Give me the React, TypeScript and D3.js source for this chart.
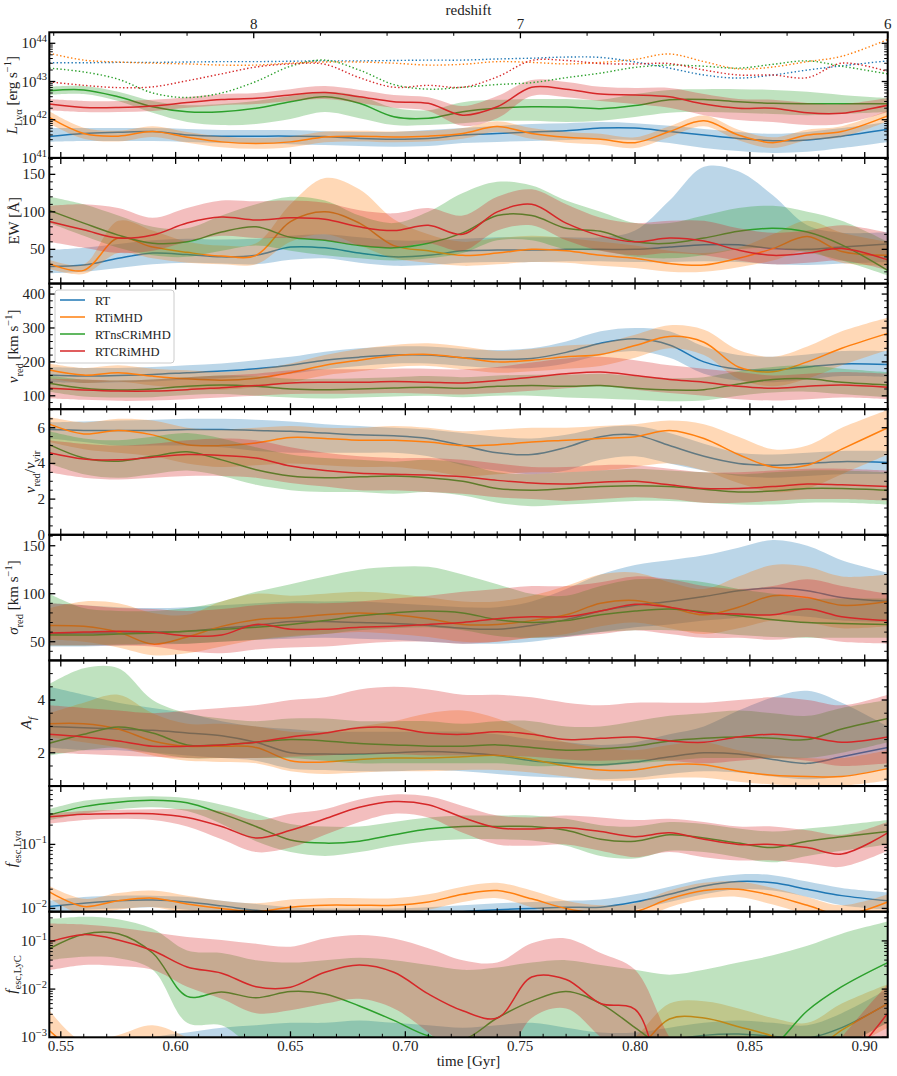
import React from 'react';
import * as d3 from 'd3';

// ---------------- data ----------------
const T = [0.545, 0.56, 0.575, 0.59, 0.605, 0.62, 0.635, 0.65, 0.665, 0.68, 0.695, 0.71, 0.725, 0.74, 0.755, 0.77, 0.785, 0.80, 0.815, 0.83, 0.845, 0.86, 0.875, 0.89, 0.91];
const MODELS = ['RT', 'RTiMHD', 'RTnsCRiMHD', 'RTCRiMHD'];
const COLORS = ['#1f77b4', '#ff7f0e', '#2ca02c', '#d62728'];

// Panel 1: log10 L_Lya [erg/s]  (order: RT, RTiMHD, RTnsCRiMHD, RTCRiMHD)
const LLYA_MED = [
  [41.56, 41.64, 41.67, 41.69, 41.60, 41.57, 41.57, 41.57, 41.56, 41.51, 41.49, 41.51, 41.60, 41.64, 41.68, 41.71, 41.78, 41.78, 41.69, 41.60, 41.51, 41.45, 41.47, 41.57, 41.75],
  [42.06, 41.64, 41.57, 41.69, 41.54, 41.42, 41.38, 41.42, 41.55, 41.57, 41.55, 41.57, 41.64, 41.82, 41.64, 41.54, 41.49, 41.40, 41.69, 41.97, 41.60, 41.40, 41.60, 41.69, 42.10],
  [42.76, 42.78, 42.60, 42.34, 42.21, 42.21, 42.30, 42.47, 42.60, 42.43, 42.08, 42.04, 42.21, 42.30, 42.34, 42.33, 42.29, 42.37, 42.52, 42.53, 42.47, 42.43, 42.42, 42.42, 42.42],
  [42.41, 42.32, 42.32, 42.36, 42.45, 42.53, 42.56, 42.65, 42.71, 42.60, 42.47, 42.43, 42.12, 42.34, 42.85, 42.80, 42.67, 42.65, 42.60, 42.41, 42.30, 42.30, 42.18, 42.17, 42.38],
];
const LLYA_HI = [
  [41.78, 41.78, 41.78, 41.78, 41.76, 41.73, 41.73, 41.73, 41.70, 41.68, 41.68, 41.73, 41.78, 41.84, 41.89, 41.91, 41.94, 41.91, 41.84, 41.76, 41.68, 41.63, 41.68, 41.78, 41.94],
  [42.22, 41.79, 41.71, 41.83, 41.68, 41.56, 41.52, 41.56, 41.69, 41.71, 41.69, 41.71, 41.78, 41.96, 41.78, 41.68, 41.63, 41.54, 41.83, 42.11, 41.74, 41.54, 41.74, 41.83, 42.24],
  [42.86, 42.88, 42.73, 42.49, 42.38, 42.41, 42.49, 42.62, 42.73, 42.62, 42.31, 42.25, 42.46, 42.52, 42.54, 42.54, 42.52, 42.67, 42.78, 42.80, 42.80, 42.78, 42.73, 42.65, 42.57],
  [42.54, 42.49, 42.49, 42.52, 42.59, 42.67, 42.70, 42.80, 42.88, 42.78, 42.65, 42.59, 42.36, 42.62, 43.04, 42.99, 42.86, 42.83, 42.83, 42.67, 42.54, 42.52, 42.44, 42.41, 42.57],
];
const LLYA_LO = [
  [41.42, 41.44, 41.44, 41.44, 41.42, 41.39, 41.39, 41.36, 41.34, 41.31, 41.29, 41.31, 41.39, 41.42, 41.44, 41.47, 41.49, 41.47, 41.39, 41.26, 41.18, 41.13, 41.16, 41.26, 41.42],
  [41.90, 41.50, 41.43, 41.55, 41.40, 41.28, 41.24, 41.28, 41.41, 41.43, 41.41, 41.43, 41.50, 41.68, 41.50, 41.40, 41.35, 41.26, 41.55, 41.83, 41.46, 41.26, 41.46, 41.55, 41.96],
  [42.65, 42.67, 42.49, 42.18, 41.94, 41.86, 41.89, 42.02, 42.20, 42.04, 41.86, 41.86, 41.91, 41.97, 41.97, 41.94, 41.97, 42.07, 42.18, 42.20, 42.18, 42.15, 42.12, 42.15, 42.20],
  [42.25, 42.20, 42.20, 42.23, 42.31, 42.38, 42.41, 42.49, 42.54, 42.44, 42.31, 42.23, 41.84, 42.04, 42.62, 42.59, 42.49, 42.41, 42.31, 42.12, 41.99, 41.94, 41.86, 41.89, 42.20],
];
// dotted lines in panel 1 (log10 L)
const LLYA_INTR = [
  [43.49, 43.49, 43.50, 43.50, 43.51, 43.52, 43.52, 43.53, 43.54, 43.54, 43.55, 43.56, 43.56, 43.59, 43.61, 43.64, 43.63, 43.51, 43.35, 43.17, 43.09, 43.17, 43.30, 43.41, 43.54],
  [43.74, 43.56, 43.51, 43.48, 43.46, 43.43, 43.43, 43.48, 43.51, 43.51, 43.48, 43.43, 43.45, 43.52, 43.50, 43.46, 43.50, 43.58, 43.72, 43.52, 43.33, 43.38, 43.52, 43.66, 44.10],
  [43.35, 43.25, 43.06, 42.70, 42.58, 42.70, 43.00, 43.40, 43.56, 43.30, 42.92, 42.80, 42.85, 42.92, 42.97, 43.10, 43.22, 43.37, 43.43, 43.40, 43.35, 43.45, 43.54, 43.40, 43.20],
  [42.99, 42.90, 42.84, 42.86, 43.02, 43.20, 43.38, 43.46, 43.45, 43.10, 42.85, 42.90, 42.85, 43.12, 43.55, 43.55, 43.47, 43.46, 43.47, 43.30, 43.17, 43.17, 43.10, 43.48, 43.26],
];

// Panel 2: EW [A]
const EW_MED = [
  [27, 29, 38, 45, 43, 40, 42, 53, 52, 45, 40, 42, 48, 49, 49, 50, 50, 50, 53, 56, 56, 51, 50, 53, 57],
  [31, 22, 65, 53, 46, 41, 42, 87, 100, 85, 55, 48, 42, 45, 50, 48, 42, 38, 31, 29, 38, 51, 67, 47, 42],
  [102, 85, 69, 58, 60, 73, 80, 66, 62, 55, 52, 58, 72, 95, 95, 78, 74, 60, 58, 65, 74, 78, 73, 56, 22],
  [87, 76, 65, 69, 85, 93, 89, 92, 90, 80, 75, 82, 70, 100, 110, 85, 68, 60, 65, 61, 49, 42, 45, 51, 36],
];
const EW_HI = [
  [49, 52, 57, 62, 64, 63, 64, 68, 70, 66, 62, 62, 64, 66, 66, 66, 66, 75, 115, 160, 154, 122, 82, 72, 73],
  [36, 30, 88, 75, 60, 55, 58, 110, 145, 130, 90, 70, 60, 65, 68, 65, 60, 55, 48, 45, 52, 70, 88, 72, 60],
  [120, 110, 95, 80, 78, 95, 110, 120, 115, 95, 85, 100, 125, 140, 135, 115, 100, 85, 85, 95, 105, 108, 100, 88, 60],
  [108, 110, 105, 92, 105, 115, 114, 115, 112, 102, 98, 105, 95, 120, 130, 110, 92, 85, 88, 88, 78, 72, 75, 82, 72],
];
const EW_LO = [
  [18, 20, 25, 30, 32, 31, 30, 36, 38, 32, 28, 29, 32, 33, 33, 34, 34, 33, 33, 34, 33, 30, 29, 31, 33],
  [24, 17, 45, 38, 32, 30, 30, 60, 70, 55, 38, 32, 28, 30, 33, 32, 28, 25, 20, 20, 26, 35, 48, 32, 28],
  [85, 68, 52, 42, 40, 48, 55, 48, 42, 38, 35, 38, 45, 62, 62, 50, 48, 40, 38, 42, 50, 52, 46, 35, 15],
  [60, 52, 45, 48, 60, 68, 65, 65, 62, 55, 52, 58, 48, 75, 82, 62, 48, 42, 45, 42, 35, 30, 32, 35, 22],
];

// Panel 3: v_red [km/s]
const VRED_MED = [
  [161, 158, 160, 163, 168, 173, 180, 190, 205, 214, 220, 220, 212, 208, 210, 228, 255, 268, 250, 200, 178, 176, 185, 194, 192],
  [176, 161, 168, 158, 150, 146, 152, 168, 190, 205, 218, 222, 212, 200, 205, 215, 222, 248, 275, 258, 185, 171, 200, 240, 284],
  [137, 122, 117, 120, 128, 132, 128, 120, 118, 120, 123, 125, 122, 128, 130, 128, 130, 122, 117, 118, 135, 148, 150, 140, 132],
  [122, 117, 114, 114, 118, 124, 130, 138, 140, 140, 142, 140, 138, 145, 155, 165, 170, 160, 148, 140, 128, 122, 128, 132, 125],
];
const VRED_HI = [
  [185, 182, 182, 185, 190, 195, 205, 215, 230, 240, 245, 245, 238, 235, 240, 260, 290, 300, 290, 245, 220, 215, 222, 232, 232],
  [195, 182, 190, 180, 175, 170, 178, 195, 220, 238, 250, 255, 245, 232, 238, 248, 255, 280, 308, 295, 235, 215, 245, 290, 330],
  [160, 148, 145, 148, 155, 160, 158, 150, 150, 152, 155, 158, 155, 160, 162, 162, 165, 158, 152, 155, 172, 185, 190, 180, 170],
  [150, 148, 145, 148, 155, 160, 165, 175, 178, 178, 180, 180, 178, 185, 198, 210, 215, 205, 190, 180, 170, 160, 165, 170, 165],
];
const VRED_LO = [
  [140, 138, 140, 142, 148, 152, 158, 165, 178, 188, 195, 195, 188, 182, 182, 195, 220, 232, 212, 165, 145, 140, 148, 158, 155],
  [150, 138, 142, 130, 122, 118, 125, 140, 160, 172, 185, 188, 178, 168, 172, 180, 188, 212, 240, 220, 150, 128, 150, 190, 235],
  [112, 98, 95, 96, 102, 105, 100, 95, 92, 95, 98, 100, 96, 100, 100, 95, 92, 88, 84, 86, 100, 110, 112, 105, 95],
  [92, 88, 85, 86, 90, 95, 100, 105, 106, 106, 108, 106, 104, 108, 115, 122, 128, 118, 108, 100, 90, 86, 90, 95, 90],
];

// Panel 4: v_red / v_vir
const VRAT_MED = [
  [5.9, 5.85, 5.85, 5.85, 5.9, 5.9, 5.85, 5.8, 5.7, 5.6, 5.55, 5.4, 5.0, 4.6, 4.5, 4.9, 5.5, 5.6, 5.0, 4.4, 4.0, 3.9, 4.0, 4.1, 4.05],
  [6.2, 5.65, 5.85, 5.6, 5.05, 5.0, 5.15, 5.45, 5.4, 5.3, 5.3, 5.2, 5.0, 5.05, 5.2, 5.3, 5.4, 5.5, 5.85, 5.4, 4.5, 3.8, 3.9, 4.8, 6.0],
  [5.05, 4.3, 4.12, 4.4, 4.65, 4.2, 3.65, 3.3, 3.2, 3.25, 3.3, 3.2, 3.0, 2.6, 2.5, 2.6, 2.7, 2.75, 2.7, 2.55, 2.4, 2.45, 2.6, 2.6, 2.5],
  [4.6, 4.25, 4.2, 4.35, 4.5, 4.45, 4.3, 3.85, 3.6, 3.45, 3.4, 3.35, 3.25, 3.05, 2.9, 2.85, 2.95, 3.0, 2.8, 2.6, 2.6, 2.7, 2.85, 2.8, 2.7],
];
const VRAT_HI = [
  [6.3, 6.35, 6.4, 6.45, 6.5, 6.5, 6.45, 6.35, 6.2, 6.1, 6.0, 5.9, 5.7, 5.5, 5.4, 5.6, 6.0, 6.1, 5.7, 5.1, 4.6, 4.5, 4.6, 4.7, 4.7],
  [6.6, 6.3, 6.5, 6.4, 6.0, 5.9, 6.0, 6.1, 6.0, 6.0, 6.1, 6.0, 5.8, 5.9, 6.0, 6.0, 6.1, 6.2, 6.4, 6.2, 5.5, 4.8, 5.0, 6.0, 7.0],
  [5.8, 5.4, 5.3, 5.5, 5.7, 5.4, 4.9, 4.5, 4.3, 4.2, 4.1, 4.2, 4.0, 3.5, 3.4, 3.5, 3.6, 3.7, 3.6, 3.5, 3.4, 3.5, 3.6, 3.6, 3.5],
  [5.3, 5.1, 5.0, 5.1, 5.3, 5.4, 5.3, 4.9, 4.6, 4.4, 4.3, 4.3, 4.2, 4.0, 3.8, 3.8, 3.9, 3.9, 3.7, 3.5, 3.5, 3.6, 3.7, 3.7, 3.6],
];
const VRAT_LO = [
  [5.4, 5.2, 5.0, 5.0, 5.0, 4.9, 4.7, 4.6, 4.6, 4.6, 4.6, 4.4, 3.9, 3.6, 3.4, 3.6, 4.2, 4.4, 4.0, 3.6, 3.3, 3.2, 3.3, 3.4, 3.4],
  [5.2, 4.8, 4.6, 4.4, 4.0, 3.8, 3.9, 4.0, 3.9, 3.8, 3.8, 3.6, 3.3, 3.4, 3.5, 3.5, 3.6, 3.8, 4.0, 3.6, 2.9, 2.4, 2.6, 3.4, 4.5],
  [4.0, 3.4, 3.2, 3.4, 3.6, 3.3, 2.8, 2.5, 2.4, 2.4, 2.3, 2.4, 2.2, 1.8, 1.6, 1.7, 1.8, 1.9, 1.9, 1.8, 1.7, 1.7, 1.8, 1.8, 1.7],
  [3.5, 3.2, 3.1, 3.2, 3.3, 3.3, 3.2, 2.9, 2.7, 2.5, 2.5, 2.4, 2.3, 2.1, 2.0, 1.9, 2.0, 2.1, 2.0, 1.8, 1.8, 1.9, 2.0, 2.0, 1.9],
];

// Panel 5: sigma_red [km/s]
const SIG_MED = [
  [58, 59, 59, 60, 61, 64, 67, 71, 71, 70, 69, 67, 64, 63, 67, 73, 82, 88, 92, 97, 103, 106, 103, 96, 92],
  [67, 66, 60, 47.5, 55, 66, 73, 75, 78, 80, 78, 74, 68, 68, 72, 78, 90, 93, 86, 78, 86, 98, 96, 88, 92],
  [57, 57, 58, 59, 61, 63, 65, 68, 72, 77, 80, 82, 80, 73, 70, 72, 78, 82, 84, 81, 77, 73, 70, 69, 68],
  [59, 60, 61, 60, 56, 57, 68, 63, 63, 65, 66, 68, 70, 74, 76, 76, 82, 89, 86, 80, 79, 78, 84, 76, 72],
];
const SIG_HI = [
  [90, 88, 86, 85, 86, 88, 90, 92, 92, 92, 90, 88, 86, 86, 92, 105, 120, 130, 135, 140, 148, 156, 150, 135, 122],
  [85, 92, 90, 80, 78, 92, 100, 98, 100, 102, 100, 96, 92, 92, 98, 108, 120, 122, 112, 105, 118, 130, 128, 118, 120],
  [100, 85, 82, 82, 85, 92, 102, 110, 118, 125, 128, 128, 120, 110, 100, 98, 108, 115, 115, 112, 105, 100, 95, 95, 95],
  [90, 88, 85, 84, 82, 84, 88, 90, 90, 92, 95, 98, 102, 105, 108, 108, 112, 118, 115, 108, 105, 108, 115, 108, 100],
];
const SIG_LO = [
  [45, 45, 46, 47, 48, 50, 52, 53, 54, 53, 52, 50, 48, 48, 50, 55, 60, 65, 68, 72, 75, 78, 76, 72, 70],
  [52, 50, 44, 36, 38, 45, 52, 56, 58, 60, 58, 55, 50, 50, 54, 58, 66, 70, 64, 58, 64, 72, 70, 64, 66],
  [46, 46, 47, 48, 48, 50, 52, 55, 58, 62, 64, 65, 62, 56, 54, 56, 60, 62, 62, 60, 57, 55, 54, 54, 54],
  [46, 46, 46, 45, 40, 38, 42, 44, 45, 48, 50, 50, 48, 50, 54, 55, 58, 62, 58, 54, 54, 52, 55, 50, 48],
];

// Panel 6: A_f
const AF_MED = [
  [3.0, 2.95, 2.9, 2.85, 2.75, 2.65, 2.4, 2.0, 1.95, 1.95, 2.0, 2.05, 2.0, 1.9, 1.7, 1.6, 1.55, 1.65, 1.85, 2.0, 1.95, 1.75, 1.6, 1.85, 2.2],
  [3.1, 3.1, 2.9, 2.45, 2.25, 2.25, 2.2, 1.7, 1.65, 1.75, 1.8, 1.8, 1.85, 1.9, 1.75, 1.5, 1.35, 1.35, 1.55, 1.55, 1.3, 1.15, 1.1, 1.1, 1.4],
  [2.36, 2.7, 2.98, 2.75, 2.3, 2.3, 2.4, 2.5, 2.45, 2.35, 2.3, 2.25, 2.25, 2.3, 2.2, 2.1, 2.15, 2.25, 2.45, 2.55, 2.6, 2.55, 2.5, 2.9, 3.3],
  [2.7, 2.6, 2.45, 2.25, 2.25, 2.3, 2.4, 2.6, 2.75, 2.95, 2.95, 2.75, 2.7, 2.8, 2.7, 2.5, 2.55, 2.6, 2.45, 2.4, 2.6, 2.7, 2.6, 2.4, 2.6],
];
const AF_HI = [
  [4.5, 4.2, 3.9, 3.7, 3.5, 3.2, 3.0, 2.9, 2.8, 2.8, 2.8, 2.8, 2.8, 2.7, 2.5, 2.4, 2.3, 2.4, 2.7, 3.0, 3.6, 4.1, 4.35, 3.9, 3.0],
  [3.5, 3.9, 4.2, 3.5, 3.1, 3.1, 3.0, 2.8, 2.8, 3.0, 3.2, 3.5, 3.6, 3.3, 2.8, 2.4, 2.2, 2.1, 2.3, 2.4, 2.1, 1.9, 1.8, 1.8, 2.1],
  [4.6, 5.2, 5.2, 4.0, 3.5, 3.3, 3.2, 3.3, 3.3, 3.2, 3.2, 3.2, 3.1, 3.2, 3.2, 3.0, 3.0, 3.2, 3.4, 3.5, 3.6, 3.5, 3.4, 3.7, 4.0],
  [3.8, 3.7, 3.6, 3.5, 3.6, 3.7, 3.8, 4.0, 4.1, 4.4, 4.5, 4.4, 4.2, 4.2, 4.1, 3.9, 3.8, 3.9, 3.9, 3.9, 4.0, 4.1, 4.0, 3.8, 4.2],
];
const AF_LO = [
  [2.2, 2.1, 2.1, 2.0, 1.9, 1.8, 1.7, 1.4, 1.35, 1.3, 1.3, 1.35, 1.3, 1.2, 1.1, 1.05, 1.0, 1.05, 1.2, 1.3, 1.25, 1.1, 1.0, 1.1, 1.4],
  [2.6, 2.4, 2.2, 1.9, 1.7, 1.65, 1.6, 1.3, 1.2, 1.25, 1.3, 1.3, 1.35, 1.35, 1.25, 1.1, 0.95, 0.95, 1.05, 1.05, 0.9, 0.8, 0.75, 0.75, 0.95],
  [1.9, 2.1, 2.2, 2.0, 1.8, 1.8, 1.8, 1.8, 1.7, 1.6, 1.6, 1.6, 1.6, 1.6, 1.5, 1.5, 1.5, 1.6, 1.7, 1.8, 1.8, 1.8, 1.8, 2.0, 2.4],
  [2.0, 1.95, 1.9, 1.85, 1.8, 1.8, 1.8, 1.85, 1.9, 1.95, 1.95, 1.9, 1.9, 1.9, 1.85, 1.75, 1.7, 1.75, 1.7, 1.6, 1.7, 1.8, 1.7, 1.5, 1.6],
];

// Panel 7: log10 f_esc,Lya
const FLYA_MED = [
  [-1.97, -1.92, -1.88, -1.87, -1.9, -1.96, -2.03, -2.08, -2.1, -2.1, -2.1, -2.08, -2.05, -2.02, -2.0, -1.98, -1.98, -1.9, -1.78, -1.65, -1.58, -1.6, -1.7, -1.8, -1.88],
  [-1.74, -1.97, -1.88, -1.84, -1.93, -2.0, -2.05, -1.98, -1.95, -1.95, -1.95, -1.9, -1.78, -1.72, -1.85, -2.0, -2.08, -2.05, -1.85, -1.72, -1.7, -1.8, -1.95, -2.1, -1.9],
  [-0.54, -0.41, -0.34, -0.31, -0.35, -0.52, -0.72, -0.93, -0.98, -0.95, -0.85, -0.76, -0.72, -0.72, -0.72, -0.78, -0.92, -0.95, -0.85, -0.9, -0.98, -1.05, -0.95, -0.88, -0.8],
  [-0.57, -0.53, -0.52, -0.52, -0.58, -0.72, -0.9, -0.78, -0.6, -0.42, -0.33, -0.38, -0.58, -0.74, -0.76, -0.74, -0.8, -0.88, -0.82, -0.92, -1.0, -1.0, -1.05, -1.15, -0.82],
];
const FLYA_HI = [
  [-1.88, -1.82, -1.8, -1.8, -1.82, -1.88, -1.93, -1.98, -2.0, -2.0, -2.0, -1.98, -1.95, -1.92, -1.9, -1.88, -1.86, -1.78, -1.66, -1.54, -1.47, -1.48, -1.58, -1.68, -1.75],
  [-1.65, -1.85, -1.76, -1.72, -1.8, -1.88, -1.92, -1.86, -1.84, -1.84, -1.84, -1.78, -1.66, -1.6, -1.72, -1.88, -1.95, -1.92, -1.72, -1.6, -1.58, -1.68, -1.82, -1.95, -1.78],
  [-0.45, -0.32, -0.27, -0.25, -0.28, -0.38, -0.52, -0.68, -0.72, -0.72, -0.65, -0.58, -0.55, -0.55, -0.55, -0.6, -0.7, -0.72, -0.65, -0.68, -0.75, -0.8, -0.75, -0.7, -0.62],
  [-0.52, -0.48, -0.46, -0.45, -0.45, -0.48, -0.62, -0.52, -0.45, -0.3, -0.22, -0.25, -0.4, -0.55, -0.58, -0.55, -0.58, -0.62, -0.6, -0.65, -0.72, -0.72, -0.78, -0.85, -0.65],
];
const FLYA_LO = [
  [-2.05, -2.02, -2.0, -1.98, -2.02, -2.08, -2.15, -2.2, -2.25, -2.25, -2.25, -2.22, -2.18, -2.15, -2.12, -2.12, -2.1, -2.02, -1.9, -1.78, -1.7, -1.72, -1.82, -1.95, -2.02],
  [-1.84, -2.1, -2.02, -1.98, -2.08, -2.15, -2.2, -2.12, -2.08, -2.08, -2.08, -2.02, -1.9, -1.84, -1.98, -2.14, -2.22, -2.2, -1.98, -1.85, -1.82, -1.94, -2.1, -2.25, -2.05],
  [-0.62, -0.52, -0.45, -0.42, -0.48, -0.68, -0.95, -1.12, -1.18, -1.12, -1.02, -0.95, -0.92, -0.92, -0.94, -1.02, -1.18, -1.22, -1.1, -1.12, -1.2, -1.28, -1.18, -1.1, -1.0],
  [-0.68, -0.62, -0.6, -0.62, -0.72, -0.92, -1.12, -1.05, -0.85, -0.65, -0.52, -0.58, -0.82, -1.0, -1.02, -1.0, -1.1, -1.2, -1.12, -1.2, -1.25, -1.25, -1.3, -1.35, -1.1],
];

// Panel 8: log10 f_esc,LyC
const FLYC_MED = [
  [-3.5, -3.5, -3.5, -3.5, -3.5, -3.5, -3.5, -3.5, -3.5, -3.5, -3.5, -3.5, -3.5, -3.5, -3.5, -3.5, -3.5, -3.4, -3.08, -2.96, -2.93, -2.98, -3.02, -2.8, -2.3],
  [-2.86, -3.4, -3.6, -3.6, -3.6, -3.6, -3.6, -3.6, -3.6, -3.6, -3.6, -3.6, -3.6, -3.6, -3.6, -3.6, -3.6, -3.3, -2.62, -2.6, -2.78, -2.98, -3.3, -2.85, -2.3],
  [-1.16, -0.86, -0.85, -1.25, -2.15, -2.06, -2.18, -2.05, -2.1, -2.35, -2.65, -2.97, -3.05, -2.6, -2.25, -2.05, -2.3, -2.8, -3.3, -3.6, -3.6, -3.2, -2.45, -1.95, -1.45],
  [-1.02, -0.87, -0.98, -1.2, -1.54, -1.67, -1.95, -1.96, -1.65, -1.5, -1.65, -2.1, -2.45, -2.6, -1.75, -1.8, -2.3, -2.42, -4, -4, -4, -4, -4, -3.6, -2.5],
];
const FLYC_HI = [
  [-3.3, -3.3, -3.2, -3.0, -2.9, -2.8, -2.75, -2.7, -2.7, -2.65, -2.7, -2.75, -2.8, -2.75, -2.7, -2.8, -2.9, -2.9, -2.8, -2.7, -2.65, -2.7, -2.75, -2.5, -2.0],
  [-2.44, -3.1, -2.95, -2.75, -3.0, -3.3, -3.4, -3.4, -3.3, -3.4, -3.5, -3.5, -3.5, -3.5, -3.5, -3.5, -3.5, -3.0, -2.3, -2.25, -2.4, -2.6, -2.7, -2.3, -1.9],
  [-0.55, -0.5, -0.55, -0.75, -1.2, -1.25, -1.4, -1.45, -1.4, -1.35, -1.4, -1.5, -1.6, -1.55, -1.45, -1.4, -1.5, -1.6, -1.7, -1.6, -1.45, -1.3, -1.1, -0.85, -0.6],
  [-0.64, -0.66, -0.72, -0.82, -0.92, -0.98, -1.06, -1.12, -0.95, -0.88, -0.95, -1.15, -1.4, -1.45, -1.05, -0.95, -1.25, -1.6, -3.0, -4, -4, -4, -4, -3.0, -1.9],
];
const FLYC_LO = [
  [-4.5, -4.5, -4.5, -4.5, -4.5, -4.5, -4.5, -4.5, -4.5, -4.5, -4.5, -4.5, -4.5, -4.5, -4.5, -4.5, -4.5, -4.5, -4.5, -4.5, -4.5, -4.5, -4.5, -3.3, -2.7],
  [-4.5, -4.5, -4.5, -4.5, -4.5, -4.5, -4.5, -4.5, -4.5, -4.5, -4.5, -4.5, -4.5, -4.5, -4.5, -4.5, -4.5, -4.5, -3.3, -3.1, -3.3, -3.6, -4.5, -3.4, -2.8],
  [-1.4, -1.33, -1.36, -1.6, -2.7, -2.75, -3.2, -3.1, -3.2, -3.5, -3.8, -4, -4, -3.6, -3.3, -3.1, -3.4, -3.8, -4, -4, -4, -4, -3.6, -3.2, -2.7],
  [-1.61, -1.5, -1.52, -1.6, -1.95, -2.2, -2.5, -2.44, -2.3, -2.2, -2.4, -2.9, -3.5, -3.7, -2.6, -2.4, -3.0, -3.6, -4, -4, -4, -4, -4, -4, -3.4],
];

// axes ticks
const X_MAJOR = [0.55, 0.60, 0.65, 0.70, 0.75, 0.80, 0.85, 0.90];
const X_MINOR_STEP = 0.01;
const Z_TICKS = [8, 7, 6];
const Z_TICK_TIMES = [0.634, 0.7501, 0.91];

// ---------------- layout ----------------
const W = 897, H = 1076;
const LEFT = 49.3, RIGHT = 887.7, TOP = 32.3, PH = 125.625;
const FONT = "'Liberation Serif', 'Times New Roman', serif";

type Part = { t: string; it?: boolean; sub?: boolean; sup?: boolean };

const PANELS = [
  { log: true, domain: [1e41, 1.94e44], med: LLYA_MED, lo: LLYA_LO, hi: LLYA_HI, labelX: 17,
    label: [{ t: 'L', it: true }, { t: 'Lyα', sub: true }, { t: ' [erg s' }, { t: '−1', sup: true }, { t: ']' }] as Part[] },
  { log: false, domain: [4.4, 171.9], major: 50, minor: 10, med: EW_MED, lo: EW_LO, hi: EW_HI, labelX: 19,
    label: [{ t: 'EW [Å]' }] as Part[] },
  { log: false, domain: [60.5, 431], major: 100, minor: 20, med: VRED_MED, lo: VRED_LO, hi: VRED_HI, labelX: 18,
    label: [{ t: 'v', it: true }, { t: 'red', sub: true }, { t: ' [km s' }, { t: '−1', sup: true }, { t: ']' }] as Part[] },
  { log: false, domain: [0, 7.04], major: 2, minor: 0.5, med: VRAT_MED, lo: VRAT_LO, hi: VRAT_HI, labelX: 35,
    label: [{ t: 'v', it: true }, { t: 'red', sub: true }, { t: '/' }, { t: 'v', it: true }, { t: 'vir', sub: true }] as Part[] },
  { log: false, domain: [30.5, 161.4], major: 50, minor: 10, med: SIG_MED, lo: SIG_LO, hi: SIG_HI, labelX: 18,
    label: [{ t: 'σ', it: true }, { t: 'red', sub: true }, { t: ' [km s' }, { t: '−1', sup: true }, { t: ']' }] as Part[] },
  { log: false, domain: [0.74, 5.5], major: 2, minor: 0.5, med: AF_MED, lo: AF_LO, hi: AF_HI, labelX: 31,
    label: [{ t: 'A', it: true }, { t: 'f', sub: true, it: true }] as Part[] },
  { log: true, domain: [0.0089, 0.815], med: FLYA_MED, lo: FLYA_LO, hi: FLYA_HI, labelX: 16,
    label: [{ t: 'f', it: true }, { t: 'esc,Lyα', sub: true }] as Part[] },
  { log: true, domain: [1e-3, 0.404], med: FLYC_MED, lo: FLYC_LO, hi: FLYC_HI, labelX: 16,
    label: [{ t: 'f', it: true }, { t: 'esc,LyC', sub: true }] as Part[] },
];

function Rich({ parts, size }: { parts: Part[]; size: number }) {
  let cur = 0;
  return (
    <>
      {parts.map((p, i) => {
        const off = p.sub ? size * 0.3 : p.sup ? -size * 0.42 : 0;
        const dy = off - cur;
        cur = off;
        return (
          <tspan key={i} dy={dy} fontStyle={p.it ? 'italic' : 'normal'} fontSize={p.sub || p.sup ? size * 0.7 : size}>
            {p.t}
          </tspan>
        );
      })}
    </>
  );
}

const x = d3.scaleLinear().domain([0.545, 0.91]).range([LEFT, RIGHT]);
const CURVE = d3.curveCatmullRom.alpha(0.5);

function Panel({ p, i }: { p: any; i: number }) {
  const top = TOP + i * PH;
  const bottom = top + PH;
  const y: any = p.log
    ? d3.scaleLog().domain(p.domain).range([bottom, top])
    : d3.scaleLinear().domain(p.domain).range([bottom, top]);
  const conv = (v: number) => (p.log ? Math.pow(10, v) : v);
  const area = (lo: number[], hi: number[]) =>
    d3.area<number>()
      .x((_, k) => x(T[k]))
      .y0((_, k) => y(conv(lo[k])))
      .y1((_, k) => y(conv(hi[k])))
      .curve(CURVE)(T as any) as string;
  const line = (vals: number[]) =>
    d3.line<number>()
      .x((_, k) => x(T[k]))
      .y((_, k) => y(conv(vals[k])))
      .curve(CURVE)(T as any) as string;

  const majors: number[] = [];
  const minors: number[] = [];
  const [d0, d1] = p.domain;
  if (p.log) {
    for (let e = Math.floor(Math.log10(d0)); e <= Math.ceil(Math.log10(d1)); e++) {
      const v = Math.pow(10, e);
      if (v >= d0 * 0.999 && v <= d1 * 1.001) majors.push(v);
      for (let m = 2; m <= 9; m++) {
        const mv = m * v;
        if (mv >= d0 && mv <= d1) minors.push(mv);
      }
    }
  } else {
    for (let v = Math.ceil(d0 / p.major) * p.major; v <= d1 + 1e-9; v += p.major) majors.push(v);
    for (let v = Math.ceil(d0 / p.minor) * p.minor; v <= d1 + 1e-9; v += p.minor) {
      if (Math.abs(v / p.major - Math.round(v / p.major)) > 1e-6) minors.push(v);
    }
  }
  const xMinors: number[] = [];
  for (let v = 0.55; v <= 0.9101; v += X_MINOR_STEP) {
    const r = Math.round(v * 100) / 100;
    if (!X_MAJOR.some((m) => Math.abs(m - r) < 1e-6)) xMinors.push(r);
  }
  const cy = top + PH / 2;
  const MJ = 6, MN = 3.5;

  return (
    <g>
      <g clipPath={`url(#clip${i})`}>
        {MODELS.map((m, k) => (
          <g key={m}>
            <path d={area(p.lo[k], p.hi[k])} fill={COLORS[k]} fillOpacity={0.3} stroke="none" />
            <path d={line(p.med[k])} fill="none" stroke={COLORS[k]} strokeWidth={1.5} />
          </g>
        ))}
        {i === 0 &&
          MODELS.map((m, k) => (
            <path key={'d' + m} d={line(LLYA_INTR[k])} fill="none" stroke={COLORS[k]} strokeWidth={1.4} strokeDasharray="1.4,2.3" />
          ))}
      </g>
      {X_MAJOR.map((v) => (
        <g key={'xm' + v}>
          <line x1={x(v)} x2={x(v)} y1={bottom} y2={bottom - MJ} stroke="#000" strokeWidth={1.3} />
          {i > 0 && <line x1={x(v)} x2={x(v)} y1={top} y2={top + MJ} stroke="#000" strokeWidth={1.3} />}
        </g>
      ))}
      {xMinors.map((v) => (
        <g key={'xn' + v}>
          <line x1={x(v)} x2={x(v)} y1={bottom} y2={bottom - MN} stroke="#000" strokeWidth={1} />
          {i > 0 && <line x1={x(v)} x2={x(v)} y1={top} y2={top + MN} stroke="#000" strokeWidth={1} />}
        </g>
      ))}
      {majors.map((v) => (
        <g key={'ym' + v}>
          <line x1={LEFT} x2={LEFT + MJ} y1={y(v)} y2={y(v)} stroke="#000" strokeWidth={1.3} />
          <line x1={RIGHT} x2={RIGHT - MJ} y1={y(v)} y2={y(v)} stroke="#000" strokeWidth={1.3} />
          <text x={p.log ? 47 : 45} y={y(v) + 5} textAnchor="end" fontSize={15} fill="#222">
            {p.log ? (
              <Rich parts={[{ t: '10' }, { t: String(Math.round(Math.log10(v))).replace('-', '−'), sup: true }]} size={15} />
            ) : (
              String(v)
            )}
          </text>
        </g>
      ))}
      {minors.map((v) => (
        <g key={'yn' + v}>
          <line x1={LEFT} x2={LEFT + MN} y1={y(v)} y2={y(v)} stroke="#000" strokeWidth={1} />
          <line x1={RIGHT} x2={RIGHT - MN} y1={y(v)} y2={y(v)} stroke="#000" strokeWidth={1} />
        </g>
      ))}
      <rect x={LEFT} y={top} width={RIGHT - LEFT} height={PH} fill="none" stroke="#000" strokeWidth={2} />
      <text transform={`translate(${p.labelX},${cy}) rotate(-90)`} textAnchor="middle" fontSize={15} fill="#222">
        <Rich parts={p.label} size={15} />
      </text>
    </g>
  );
}

export default function App() {
  const zStep = (Z_TICK_TIMES[1] - Z_TICK_TIMES[0]) / 4;
  const zMinors: number[] = [];
  for (let k = -4; k < 20; k++) {
    const t = Z_TICK_TIMES[0] + k * zStep;
    if (t > 0.546 && t < 0.909 && !Z_TICK_TIMES.some((m) => Math.abs(m - t) < 1e-4)) zMinors.push(t);
  }
  const bottom = TOP + 8 * PH;
  return (
    <svg width={W} height={H} style={{ position: 'absolute', left: 0, top: 0, background: '#fff' }} fontFamily={FONT}>
      <rect x={0} y={0} width={W} height={H} fill="#fff" />
      <defs>
        {PANELS.map((_, i) => (
          <clipPath id={`clip${i}`} key={i}>
            <rect x={LEFT} y={TOP + i * PH} width={RIGHT - LEFT} height={PH} />
          </clipPath>
        ))}
      </defs>
      {PANELS.map((p, i) => (
        <Panel key={i} p={p} i={i} />
      ))}
      <g>
        <rect x={55} y={290} width={119} height={73} rx={3} fill="#fff" fillOpacity={0.8} stroke="#cccccc" strokeWidth={1} />
        {MODELS.map((m, k) => (
          <g key={m}>
            <line x1={60} x2={85} y1={300 + k * 17} y2={300 + k * 17} stroke={COLORS[k]} strokeWidth={1.5} />
            <text x={95} y={300 + k * 17 + 4.5} fontSize={12.5} fill="#222">{m}</text>
          </g>
        ))}
      </g>
      {Z_TICK_TIMES.map((t, k) => (
        <g key={'z' + k}>
          <line x1={x(t)} x2={x(t)} y1={TOP} y2={TOP + 6} stroke="#000" strokeWidth={1.3} />
          <text x={x(t)} y={28.5} textAnchor="middle" fontSize={15} fill="#222">{Z_TICKS[k]}</text>
        </g>
      ))}
      {zMinors.map((t) => (
        <line key={'zn' + t} x1={x(t)} x2={x(t)} y1={TOP} y2={TOP + 3.5} stroke="#000" strokeWidth={1} />
      ))}
      <text x={(LEFT + RIGHT) / 2} y={15} textAnchor="middle" fontSize={15} fill="#222">redshift</text>
      {X_MAJOR.map((v) => (
        <text key={'xl' + v} x={x(v)} y={bottom + 14} textAnchor="middle" fontSize={15} fill="#222">
          {v.toFixed(2)}
        </text>
      ))}
      <text x={(LEFT + RIGHT) / 2} y={1066} textAnchor="middle" fontSize={15} fill="#222">time [Gyr]</text>
    </svg>
  );
}
